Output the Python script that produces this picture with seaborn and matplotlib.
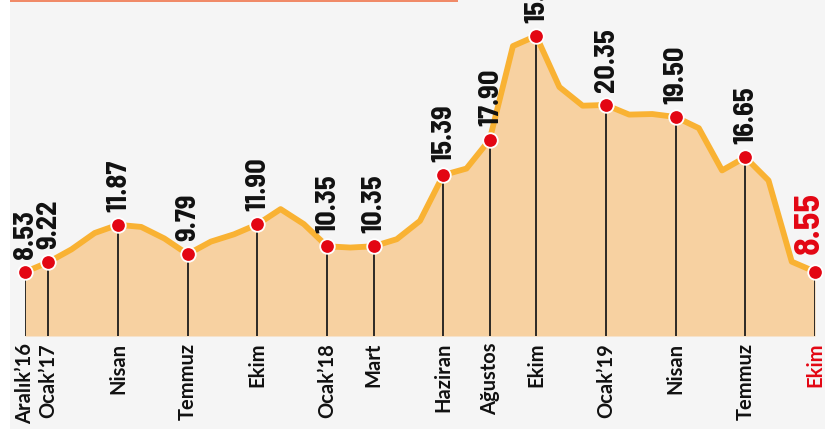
import matplotlib
matplotlib.use("Agg")
import matplotlib.pyplot as plt
import seaborn as sns
import pandas as pd
from matplotlib.patches import Rectangle

# ---- data (annual CPI inflation, %) ----
months = list(range(35))  # Dec 2016 .. Oct 2019
inflation = [8.53,
             9.22, 10.13, 11.29, 11.87, 11.72, 10.90, 9.79, 10.68, 11.20, 11.90, 12.98, 11.92,
             10.35, 10.26, 10.35, 10.85, 12.15, 15.39, 15.85, 17.90, 24.52, 25.24, 21.62, 20.30,
             20.35, 19.67, 19.71, 19.50, 18.71, 15.72, 16.65, 15.01, 9.26, 8.55]
label_idx = [0, 1, 4, 7, 10, 13, 15, 18, 20, 22, 25, 28, 31, 34]
tick_labels = ["Aralık’16", "Ocak’17", "Nisan", "Temmuz", "Ekim", "Ocak’18", "Mart",
               "Haziran", "Ağustos", "Ekim", "Ocak’19", "Nisan", "Temmuz", "Ekim"]
value_labels = ["8.53", "9.22", "11.87", "9.79", "11.90", "10.35", "10.35", "15.39",
                "17.90", "15.24", "20.35", "19.50", "16.65", "8.55"]

df = pd.DataFrame({"month": months, "value": inflation})
pts = df.iloc[label_idx].reset_index(drop=True)

# ---- style ----
sns.set_style("white")
BG = "#f5f5f5"
LINE = "#f9b233"
FILL = "#f7d1a1"
RED = "#e30613"
STEM = "#1c1c1c"
label_font = ["Barlow Semi Condensed", "DejaVu Sans"]
tick_font = ["Lato", "DejaVu Sans"]

fig = plt.figure(figsize=(8.25, 4.29), dpi=100, facecolor=BG)
W, H = 825, 429
# white strip on the left and orange rule on top
fig.patches.append(Rectangle((0, 0), 10 / W, 1, transform=fig.transFigure,
                             facecolor="white", edgecolor="none", zorder=0))
fig.patches.append(Rectangle((10 / W, 1 - 2 / H), 448 / W, 2 / H, transform=fig.transFigure,
                             facecolor="#f08a68", edgecolor="none", zorder=1))

ax = fig.add_axes([25 / W, 93 / H, 790 / W, 336 / H])
ax.set_facecolor("none")
ymin = 4.0
ax.set_xlim(0, 34)
ax.set_ylim(ymin, 27.78)

ax.fill_between(df["month"], df["value"], ymin, color=FILL, lw=0, zorder=1)
sns.lineplot(data=df, x="month", y="value", ax=ax, color=LINE, lw=4.2,
             solid_joinstyle="round", solid_capstyle="round", zorder=3)
for ln in ax.lines:
    ln.set_clip_on(False)
ax.vlines(pts["month"], ymin, pts["value"], color=STEM, lw=1.3, zorder=2)
sns.scatterplot(data=pts, x="month", y="value", ax=ax, s=110, color=RED,
                edgecolor="white", linewidth=1.3, zorder=5, clip_on=False)

for i, (m, v, t) in enumerate(zip(pts["month"], pts["value"], value_labels)):
    last = i == len(value_labels) - 1
    ax.annotate(t, (m, v), xytext=(-3.5, 13) if last else (0.5, 9.5),
                textcoords="offset points",
                rotation=90, ha="center", va="bottom",
                fontsize=26 if last else 20.5, fontweight="bold",
                family=label_font, color=RED if last else "#111111",
                annotation_clip=False, zorder=6)

ax.set_xticks(label_idx)
ax.set_xticklabels(tick_labels, rotation=90, ha="center", va="top",
                   fontsize=14.5, fontweight="bold", family=tick_font, color="#111111")
ax.get_xticklabels()[-1].set_color(RED)
ax.tick_params(axis="x", length=0, pad=5)
ax.set_yticks([])
ax.set_xlabel("")
ax.set_ylabel("")
for s in ax.spines.values():
    s.set_visible(False)

fig.savefig("out.png", dpi=100, facecolor=BG)
